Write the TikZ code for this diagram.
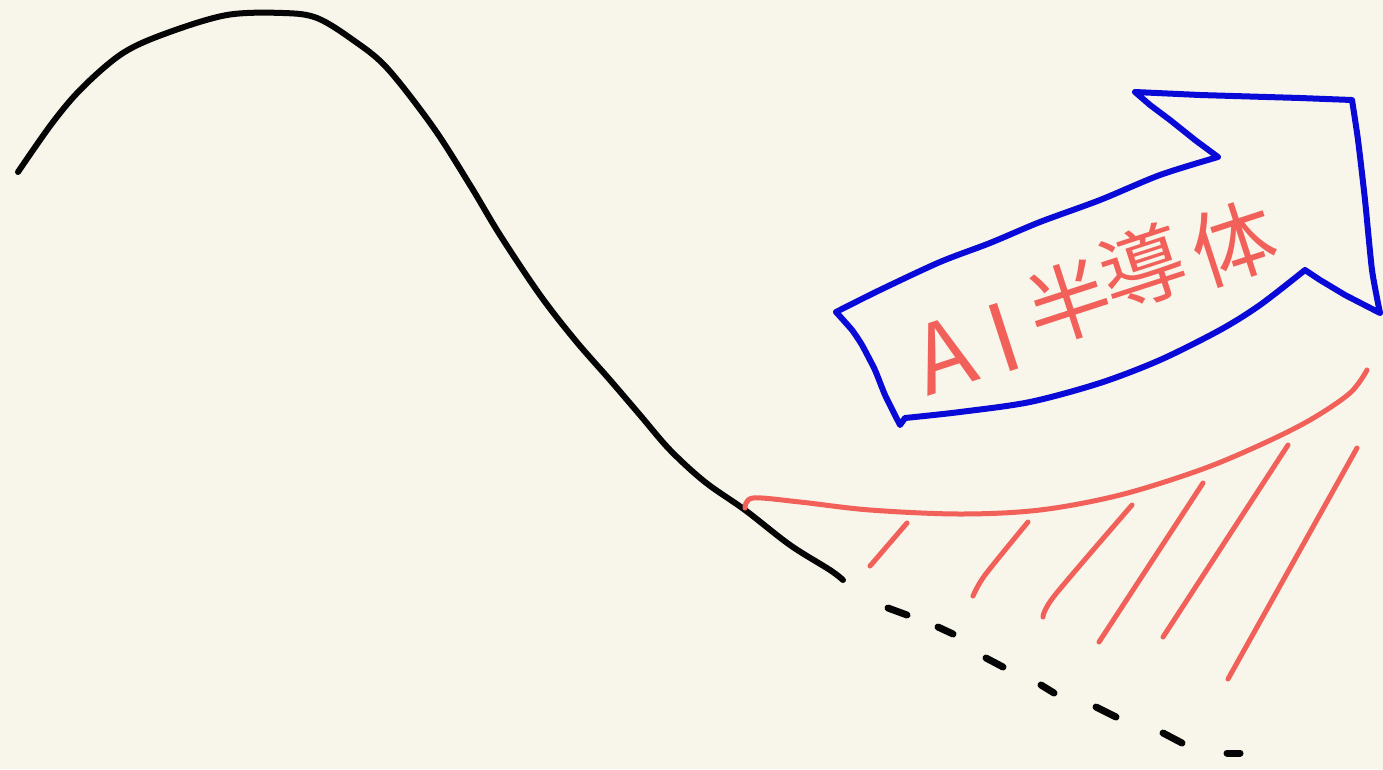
\documentclass[tikz,border=0pt]{standalone}
\usepackage{fontspec}
\newfontfamily\cjk{Noto Sans CJK JP}
\definecolor{paper}{HTML}{F8F5EA}
\definecolor{ink}{HTML}{050505}
\definecolor{pen}{HTML}{0A0AD8}
\definecolor{marker}{HTML}{F2605A}
\tikzset{
  inkline/.style={draw=ink, line width=6pt, line cap=round, line join=round},
  penline/.style={draw=pen, line width=6pt, line cap=round, line join=round},
  redline/.style={draw=marker, line width=5pt, line cap=round, line join=round},
  dashmark/.style={draw=ink, line width=7pt, line cap=round},
  glyph/.style={text=marker, rotate=18, inner sep=0pt, font=\cjk\fontsize{84}{84}\selectfont},
  latinglyph/.style={glyph, font=\cjk\fontsize{94}{94}\selectfont},
}
\begin{document}
\begin{tikzpicture}[x=1pt,y=-1pt]
\fill[paper] (0,0) rectangle (1383,769);
\useasboundingbox (0,0) rectangle (1383,769);
% main black curve
\draw[inkline] plot[smooth, tension=0.55] coordinates {
 (18,172) (53,122) (83,87) (123,53) (167,33) (227,15) (283,13) (317,18)
 (353,40) (387,68) (433,127) (470,185) (500,235) (540,295) (575,340)
 (610,380) (640,415) (670,450) (705,482) (745,510) (790,545) (830,570) (843,580)};
% dashed continuation
\draw[dashmark] (888,608) -- (907,615);
\draw[dashmark] (938,627) -- (953,634);
\draw[dashmark] (986,658) -- (1003,667);
\draw[dashmark] (1041,685) -- (1054,693);
\draw[dashmark] (1096,707) -- (1116,717);
\draw[dashmark] (1163,733) -- (1182,743);
\draw[dashmark] (1227,753) -- (1240,753);
% red curve
\draw[redline] plot[smooth, tension=0.55] coordinates {
 (745,508) (753,498) (800,502) (870,510) (960,514) (1040,510) (1120,495)
 (1200,470) (1260,445) (1310,420) (1350,393) (1367,370)};
% hatching
\draw[redline] (870,566) -- (907,523);
\draw[redline] plot[smooth] coordinates {(973,596) (985,575) (1028,522)};
\draw[redline] plot[smooth] coordinates {(1043,617) (1055,595) (1132,505)};
\draw[redline] (1099,642) -- (1203,483);
\draw[redline] (1163,637) -- (1288,445);
\draw[redline] (1228,679) -- (1357,448);
% blue arrow
\draw[penline] plot[smooth, tension=0.3] coordinates {
 (836,312) (852,330) (862,345) (875,370) (885,395) (900,425)}
 -- (905,418) plot[smooth, tension=0.5] coordinates {
 (905,418) (960,412) (1030,402) (1100,383) (1160,360) (1220,330) (1260,305) (1305,270)}
 -- (1320,280) -- (1345,295) -- (1380,313)
 plot[smooth, tension=0.4] coordinates {(1380,313) (1372,270) (1365,200) (1358,140) (1352,100)}
 -- (1300,98) -- (1200,95) -- (1135,92)
 -- (1150,105) -- (1170,120) -- (1195,140) -- (1218,157)
 plot[smooth, tension=0.5] coordinates {(1218,157) (1160,175) (1100,200) (1040,222) (990,243) (940,262) (880,290) (836,312)};
% label
\node[latinglyph] (lA) at (944,355) {A};
\node[latinglyph] (lI) at (1004,337) {I};
\node[glyph] (lhan) at (1069,302) {半};
\node[glyph] (ldou) at (1143,267) {導};
\node[glyph] (ltai) at (1234,243) {体};
\end{tikzpicture}
\end{document}
